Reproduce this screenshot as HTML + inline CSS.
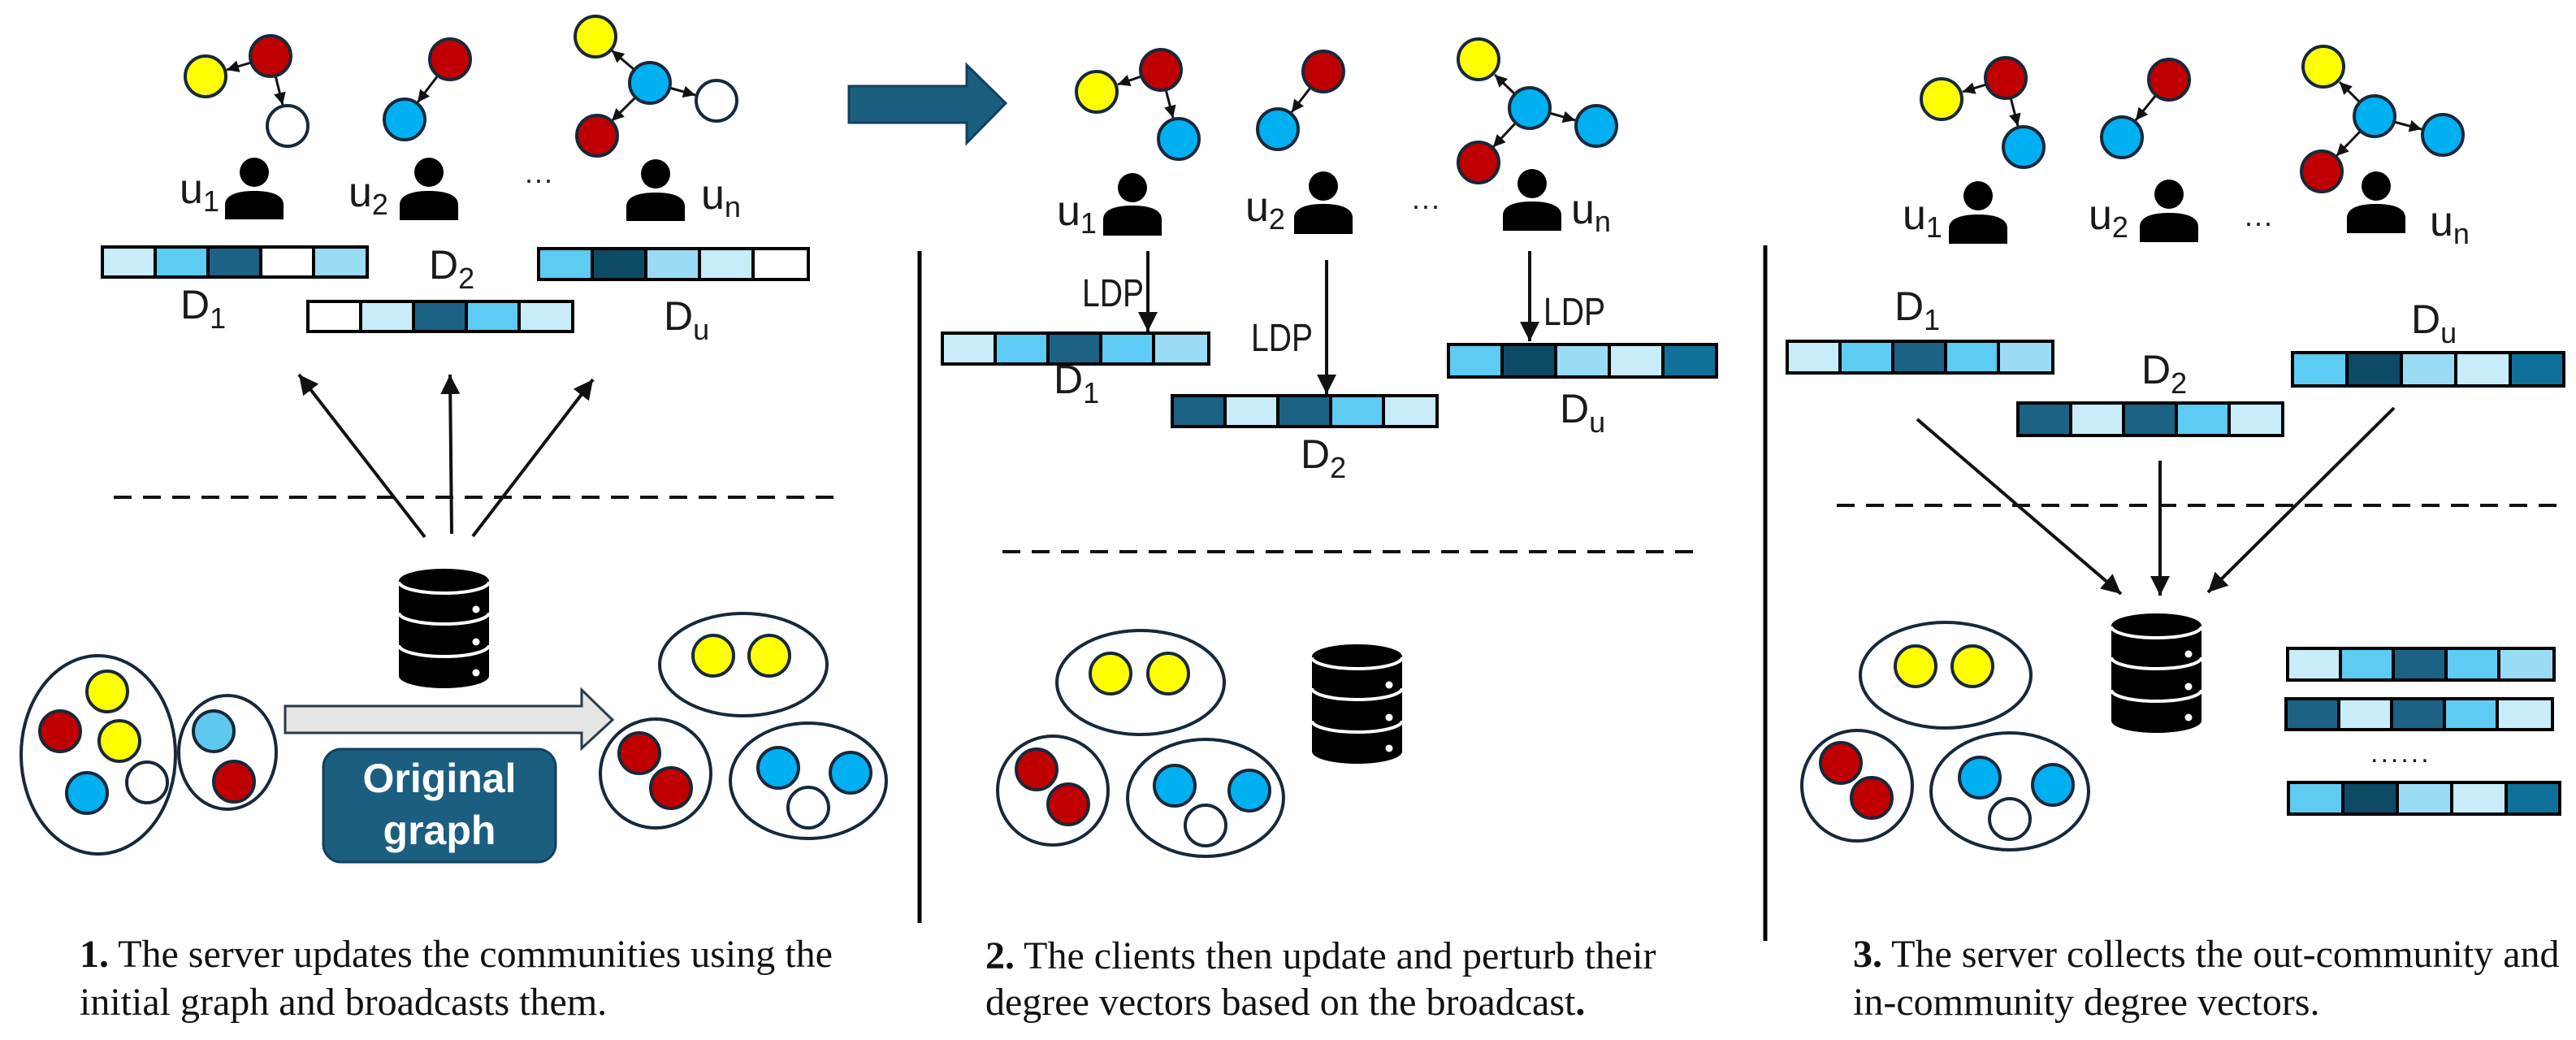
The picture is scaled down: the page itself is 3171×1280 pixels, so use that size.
<!DOCTYPE html>
<html><head><meta charset="utf-8"><style>
html,body{margin:0;padding:0;background:#fff;}
svg{display:block;}
.lab{font-family:"Liberation Sans",sans-serif;fill:#1a1a1a;}
.cap{font-family:"Liberation Serif",serif;font-size:48px;fill:#111;}
.n{stroke:#17283a;stroke-width:4;}
.e{fill:none;stroke:#17283a;stroke-width:4;}
.ar{stroke:#111;stroke-width:4;fill:none;}
.ag{stroke:#111;stroke-width:3;fill:none;}
.c{stroke:#000;stroke-width:4;}
</style></head><body>
<svg width="3171" height="1280" viewBox="0 0 3171 1280" xmlns="http://www.w3.org/2000/svg">
<defs>
<marker id="m" viewBox="0 0 10 10" refX="10" refY="5" markerWidth="6" markerHeight="6" markerUnits="strokeWidth" orient="auto"><path d="M0,0 L10,5 L0,10 z" fill="#111"/></marker>
<marker id="s" viewBox="0 0 10 10" refX="10" refY="5" markerWidth="5" markerHeight="5" markerUnits="strokeWidth" orient="auto"><path d="M0,0 L10,5 L0,10 z" fill="#111"/></marker>
<g id="db">
<path d="M0,15 A55.5,15 0 0 1 111,15 V132 A55.5,15 0 0 1 0,132 Z" fill="#000"/>
<path d="M0,16 A55.5,14 0 0 0 111,16 M0,54 A55.5,14 0 0 0 111,54 M0,94 A55.5,14 0 0 0 111,94" stroke="#fff" stroke-width="4" fill="none"/>
<circle cx="95" cy="50" r="4.5" fill="#fff"/><circle cx="95" cy="90" r="4.5" fill="#fff"/><circle cx="95" cy="128" r="4.5" fill="#fff"/>
</g>
</defs>

<!-- ============ PANEL 1 ============ -->
<g>
<line class="ag" x1="309" y1="77" x2="279" y2="86" marker-end="url(#s)"/>
<line class="ag" x1="339" y1="93" x2="348" y2="129" marker-end="url(#s)"/>
<circle class="n" cx="253" cy="94" r="25" fill="#ffff00"/>
<circle class="n" cx="333" cy="69" r="25" fill="#c00000"/>
<circle class="n" cx="354" cy="155" r="25" fill="#fff"/>
<line class="ag" x1="539" y1="93" x2="514" y2="126" marker-end="url(#s)"/>
<circle class="n" cx="554" cy="73" r="25" fill="#c00000"/>
<circle class="n" cx="498" cy="147" r="25" fill="#00b0f0"/>
<line class="ag" x1="781" y1="86" x2="753" y2="62" marker-end="url(#s)"/>
<line class="ag" x1="824" y1="108" x2="856" y2="117" marker-end="url(#s)"/>
<line class="ag" x1="782" y1="120" x2="753" y2="149" marker-end="url(#s)"/>
<circle class="n" cx="733" cy="45" r="25" fill="#ffff00"/>
<circle class="n" cx="800" cy="102" r="25" fill="#00b0f0"/>
<circle class="n" cx="882" cy="124" r="25" fill="#fff"/>
<circle class="n" cx="735" cy="167" r="25" fill="#c00000"/>
<circle cx="313" cy="212" r="18" fill="#000"/><path d="M277,270 V252 C277,240 292,235 313,235 C334,235 349,240 349,252 V270 Z" fill="#000"/>
<circle cx="528" cy="212" r="18" fill="#000"/><path d="M492,271 V252 C492,240 507,235 528,235 C549,235 564,240 564,252 V271 Z" fill="#000"/>
<circle cx="807" cy="214" r="18" fill="#000"/><path d="M771,272 V254 C771,242 786,237 807,237 C828,237 843,242 843,254 V272 Z" fill="#000"/>
<text class="lab" x="221" y="250" font-size="52">u<tspan font-size="36" dy="10">1</tspan></text>
<text class="lab" x="429" y="254" font-size="52">u<tspan font-size="36" dy="10">2</tspan></text>
<text class="lab" x="863" y="257" font-size="52">u<tspan font-size="36" dy="10">n</tspan></text>
<text class="lab" x="645" y="233" font-size="36">···</text>
<g class="c"><rect x="126" y="304" width="65" height="37" fill="#c8ecf9"/><rect x="191" y="304" width="65" height="37" fill="#5ecbf2"/><rect x="256" y="304" width="65" height="37" fill="#1b6284"/><rect x="321" y="304" width="65" height="37" fill="#fff"/><rect x="386" y="304" width="66" height="37" fill="#9adcf5"/></g>
<g class="c"><rect x="379" y="371" width="65" height="37" fill="#fff"/><rect x="444" y="371" width="65" height="37" fill="#c8ecf9"/><rect x="509" y="371" width="65" height="37" fill="#1b6284"/><rect x="574" y="371" width="65" height="37" fill="#5ecbf2"/><rect x="639" y="371" width="66" height="37" fill="#c8ecf9"/></g>
<g class="c"><rect x="663" y="306" width="66" height="38" fill="#5ecbf2"/><rect x="729" y="306" width="66" height="38" fill="#0d4a66"/><rect x="795" y="306" width="66" height="38" fill="#9adcf5"/><rect x="861" y="306" width="66" height="38" fill="#c8ecf9"/><rect x="927" y="306" width="68" height="38" fill="#fff"/></g>
<text class="lab" x="222" y="392" font-size="50">D<tspan font-size="36" dy="12">1</tspan></text>
<text class="lab" x="528" y="343" font-size="50">D<tspan font-size="36" dy="12">2</tspan></text>
<text class="lab" x="817" y="406" font-size="50">D<tspan font-size="36" dy="12">u</tspan></text>
<line class="ar" x1="523" y1="661" x2="368" y2="461" marker-end="url(#m)"/>
<line class="ar" x1="556" y1="657" x2="554" y2="461" marker-end="url(#m)"/>
<line class="ar" x1="582" y1="660" x2="730" y2="467" marker-end="url(#m)"/>
<line x1="140" y1="612" x2="1031" y2="612" stroke="#111" stroke-width="4" stroke-dasharray="22,14"/>
<use href="#db" x="491" y="700"/>
<ellipse class="e" cx="121" cy="929" rx="95" ry="122"/>
<circle class="n" cx="132" cy="851" r="25" fill="#ffff00"/>
<circle class="n" cx="74" cy="900" r="25" fill="#c00000"/>
<circle class="n" cx="147" cy="912" r="25" fill="#ffff00"/>
<circle class="n" cx="107" cy="976" r="25" fill="#00b0f0"/>
<circle class="n" cx="181" cy="963" r="25" fill="#fff"/>
<ellipse class="e" cx="280" cy="926" rx="60" ry="70"/>
<circle class="n" cx="263" cy="900" r="25" fill="#5fc8ee"/>
<circle class="n" cx="288" cy="962" r="25" fill="#c00000"/>
<polygon points="351,869 716,869 716,849 754,886 716,921 716,902 351,902" fill="#e5e5e5" stroke="#2a3a48" stroke-width="3"/>
<rect x="398" y="922" width="286" height="139" rx="22" fill="#1b5e80" stroke="#12405a" stroke-width="3"/>
<text x="541" y="975" font-family="Liberation Sans,sans-serif" font-weight="bold" font-size="50" fill="#fff" text-anchor="middle">Original</text>
<text x="541" y="1039" font-family="Liberation Sans,sans-serif" font-weight="bold" font-size="50" fill="#fff" text-anchor="middle">graph</text>
<ellipse class="e" cx="915" cy="818" rx="103" ry="63"/>
<circle class="n" cx="878" cy="807" r="25" fill="#ffff00"/>
<circle class="n" cx="947" cy="807" r="25" fill="#ffff00"/>
<ellipse class="e" cx="807" cy="952" rx="68" ry="67"/>
<circle class="n" cx="787" cy="927" r="25" fill="#c00000"/>
<circle class="n" cx="826" cy="970" r="25" fill="#c00000"/>
<ellipse class="e" cx="995" cy="961" rx="96" ry="71"/>
<circle class="n" cx="958" cy="945" r="25" fill="#00b0f0"/>
<circle class="n" cx="1047" cy="951" r="25" fill="#00b0f0"/>
<circle class="n" cx="995" cy="994" r="25" fill="#fff"/>
<text class="cap" x="98" y="1190"><tspan font-weight="bold">1.</tspan> The server updates the communities using the</text>
<text class="cap" x="98" y="1249">initial graph and broadcasts them.</text>
</g>

<polygon points="1045,106 1190,106 1190,80 1238,127 1190,176 1190,151 1045,151" fill="#1b5e80" stroke="#12405a" stroke-width="3"/>

<!-- ============ PANEL 2 ============ -->
<line x1="1132" y1="309" x2="1132" y2="1136" stroke="#000" stroke-width="5"/>
<line class="ag" x1="1405" y1="94" x2="1376" y2="104" marker-end="url(#s)"/>
<line class="ag" x1="1435" y1="110" x2="1444" y2="145" marker-end="url(#s)"/>
<circle class="n" cx="1350" cy="113" r="25" fill="#ffff00"/>
<circle class="n" cx="1429" cy="86" r="25" fill="#c00000"/>
<circle class="n" cx="1451" cy="171" r="25" fill="#00b0f0"/>
<line class="ag" x1="1613" y1="108" x2="1590" y2="138" marker-end="url(#s)"/>
<circle class="n" cx="1629" cy="88" r="25" fill="#c00000"/>
<circle class="n" cx="1573" cy="159" r="25" fill="#00b0f0"/>
<line class="ag" x1="1865" y1="116" x2="1840" y2="92" marker-end="url(#s)"/>
<line class="ag" x1="1907" y1="139" x2="1939" y2="148" marker-end="url(#s)"/>
<line class="ag" x1="1866" y1="151" x2="1838" y2="181" marker-end="url(#s)"/>
<circle class="n" cx="1820" cy="73" r="25" fill="#ffff00"/>
<circle class="n" cx="1883" cy="133" r="25" fill="#00b0f0"/>
<circle class="n" cx="1965" cy="155" r="25" fill="#00b0f0"/>
<circle class="n" cx="1820" cy="200" r="25" fill="#c00000"/>
<circle cx="1394" cy="231" r="18" fill="#000"/><path d="M1358,290 V270 C1358,258 1373,253 1394,253 C1415,253 1430,258 1430,270 V290 Z" fill="#000"/>
<circle cx="1629" cy="229" r="18" fill="#000"/><path d="M1593,288 V268 C1593,256 1608,251 1629,251 C1650,251 1665,256 1665,268 V288 Z" fill="#000"/>
<circle cx="1886" cy="226" r="18" fill="#000"/><path d="M1850,284 V265 C1850,253 1865,248 1886,248 C1907,248 1922,253 1922,265 V284 Z" fill="#000"/>
<text class="lab" x="1301" y="277" font-size="52">u<tspan font-size="36" dy="10">1</tspan></text>
<text class="lab" x="1533" y="272" font-size="52">u<tspan font-size="36" dy="10">2</tspan></text>
<text class="lab" x="1934" y="275" font-size="52">u<tspan font-size="36" dy="10">n</tspan></text>
<text class="lab" x="1737" y="265" font-size="36">···</text>
<line class="ar" x1="1413" y1="309" x2="1413" y2="408" marker-end="url(#m)"/>
<line class="ar" x1="1633" y1="320" x2="1633" y2="485" marker-end="url(#m)"/>
<line class="ar" x1="1883" y1="309" x2="1883" y2="420" marker-end="url(#m)"/>
<text class="lab" x="1332" y="377" font-size="48" textLength="76" lengthAdjust="spacingAndGlyphs">LDP</text>
<text class="lab" x="1540" y="432" font-size="48" textLength="76" lengthAdjust="spacingAndGlyphs">LDP</text>
<text class="lab" x="1900" y="400" font-size="48" textLength="76" lengthAdjust="spacingAndGlyphs">LDP</text>
<g class="c"><rect x="1160" y="410" width="65" height="38" fill="#c8ecf9"/><rect x="1225" y="410" width="65" height="38" fill="#5ecbf2"/><rect x="1290" y="410" width="65" height="38" fill="#1b6284"/><rect x="1355" y="410" width="65" height="38" fill="#5ecbf2"/><rect x="1420" y="410" width="68" height="38" fill="#9adcf5"/></g>
<g class="c"><rect x="1443" y="487" width="65" height="38" fill="#1b6284"/><rect x="1508" y="487" width="65" height="38" fill="#c8ecf9"/><rect x="1573" y="487" width="65" height="38" fill="#1b6284"/><rect x="1638" y="487" width="65" height="38" fill="#5ecbf2"/><rect x="1703" y="487" width="66" height="38" fill="#c8ecf9"/></g>
<g class="c"><rect x="1783" y="424" width="66" height="40" fill="#5ecbf2"/><rect x="1849" y="424" width="66" height="40" fill="#0d4a66"/><rect x="1915" y="424" width="66" height="40" fill="#9adcf5"/><rect x="1981" y="424" width="66" height="40" fill="#c8ecf9"/><rect x="2047" y="424" width="66" height="40" fill="#0f7199"/></g>
<text class="lab" x="1297" y="484" font-size="50">D<tspan font-size="36" dy="12">1</tspan></text>
<text class="lab" x="1601" y="576" font-size="50">D<tspan font-size="36" dy="12">2</tspan></text>
<text class="lab" x="1920" y="520" font-size="50">D<tspan font-size="36" dy="12">u</tspan></text>
<line x1="1234" y1="679" x2="2090" y2="679" stroke="#111" stroke-width="4" stroke-dasharray="22,14"/>
<ellipse class="e" cx="1404" cy="840" rx="103" ry="64"/>
<circle class="n" cx="1367" cy="829" r="25" fill="#ffff00"/>
<circle class="n" cx="1438" cy="829" r="25" fill="#ffff00"/>
<ellipse class="e" cx="1296" cy="973" rx="68" ry="67"/>
<circle class="n" cx="1276" cy="947" r="25" fill="#c00000"/>
<circle class="n" cx="1315" cy="990" r="25" fill="#c00000"/>
<ellipse class="e" cx="1484" cy="982" rx="96" ry="72"/>
<circle class="n" cx="1446" cy="967" r="25" fill="#00b0f0"/>
<circle class="n" cx="1538" cy="973" r="25" fill="#00b0f0"/>
<circle class="n" cx="1484" cy="1016" r="25" fill="#fff"/>
<use href="#db" x="1615" y="793"/>
<text class="cap" x="1213" y="1192"><tspan font-weight="bold">2.</tspan> The clients then update and perturb their</text>
<text class="cap" x="1213" y="1249">degree vectors based on the broadcast<tspan font-weight="bold">.</tspan></text>

<!-- ============ PANEL 3 ============ -->
<line x1="2173" y1="302" x2="2173" y2="1158" stroke="#000" stroke-width="5"/>
<line class="ag" x1="2445" y1="104" x2="2416" y2="113" marker-end="url(#s)"/>
<line class="ag" x1="2475" y1="120" x2="2484" y2="155" marker-end="url(#s)"/>
<circle class="n" cx="2390" cy="122" r="25" fill="#ffff00"/>
<circle class="n" cx="2469" cy="96" r="25" fill="#c00000"/>
<circle class="n" cx="2491" cy="181" r="25" fill="#00b0f0"/>
<line class="ag" x1="2654" y1="117" x2="2629" y2="148" marker-end="url(#s)"/>
<circle class="n" cx="2670" cy="98" r="25" fill="#c00000"/>
<circle class="n" cx="2612" cy="169" r="25" fill="#00b0f0"/>
<line class="ag" x1="2905" y1="126" x2="2880" y2="101" marker-end="url(#s)"/>
<line class="ag" x1="2947" y1="150" x2="2981" y2="159" marker-end="url(#s)"/>
<line class="ag" x1="2906" y1="161" x2="2876" y2="192" marker-end="url(#s)"/>
<circle class="n" cx="2860" cy="82" r="25" fill="#ffff00"/>
<circle class="n" cx="2923" cy="143" r="25" fill="#00b0f0"/>
<circle class="n" cx="3007" cy="166" r="25" fill="#00b0f0"/>
<circle class="n" cx="2858" cy="211" r="25" fill="#c00000"/>
<circle cx="2435" cy="241" r="18" fill="#000"/><path d="M2399,300 V281 C2399,269 2414,264 2435,264 C2456,264 2471,269 2471,281 V300 Z" fill="#000"/>
<circle cx="2670" cy="239" r="18" fill="#000"/><path d="M2634,298 V279 C2634,267 2649,262 2670,262 C2691,262 2706,267 2706,279 V298 Z" fill="#000"/>
<circle cx="2925" cy="229" r="18" fill="#000"/><path d="M2889,287 V268 C2889,256 2904,251 2925,251 C2946,251 2961,256 2961,268 V287 Z" fill="#000"/>
<text class="lab" x="2342" y="282" font-size="52">u<tspan font-size="36" dy="10">1</tspan></text>
<text class="lab" x="2571" y="282" font-size="52">u<tspan font-size="36" dy="10">2</tspan></text>
<text class="lab" x="2991" y="290" font-size="52">u<tspan font-size="36" dy="10">n</tspan></text>
<text class="lab" x="2762" y="286" font-size="36">···</text>
<g class="c"><rect x="2200" y="420" width="65" height="39" fill="#c8ecf9"/><rect x="2265" y="420" width="65" height="39" fill="#5ecbf2"/><rect x="2330" y="420" width="65" height="39" fill="#1b6284"/><rect x="2395" y="420" width="65" height="39" fill="#5ecbf2"/><rect x="2460" y="420" width="67" height="39" fill="#9adcf5"/></g>
<g class="c"><rect x="2484" y="496" width="65" height="40" fill="#1b6284"/><rect x="2549" y="496" width="65" height="40" fill="#c8ecf9"/><rect x="2614" y="496" width="65" height="40" fill="#1b6284"/><rect x="2679" y="496" width="65" height="40" fill="#5ecbf2"/><rect x="2744" y="496" width="66" height="40" fill="#c8ecf9"/></g>
<g class="c"><rect x="2822" y="434" width="67" height="41" fill="#5ecbf2"/><rect x="2889" y="434" width="67" height="41" fill="#0d4a66"/><rect x="2956" y="434" width="67" height="41" fill="#9adcf5"/><rect x="3023" y="434" width="67" height="41" fill="#c8ecf9"/><rect x="3090" y="434" width="66" height="41" fill="#0f7199"/></g>
<text class="lab" x="2332" y="394" font-size="50">D<tspan font-size="36" dy="12">1</tspan></text>
<text class="lab" x="2636" y="472" font-size="50">D<tspan font-size="36" dy="12">2</tspan></text>
<text class="lab" x="2968" y="410" font-size="50">D<tspan font-size="36" dy="12">u</tspan></text>
<line class="ar" x1="2360" y1="516" x2="2611" y2="731" marker-end="url(#m)"/>
<line class="ar" x1="2659" y1="567" x2="2659" y2="733" marker-end="url(#m)"/>
<line class="ar" x1="2947" y1="502" x2="2718" y2="729" marker-end="url(#m)"/>
<line x1="2261" y1="622" x2="3160" y2="622" stroke="#111" stroke-width="4" stroke-dasharray="22,14"/>
<use href="#db" x="2599" y="755"/>
<ellipse class="e" cx="2395" cy="831" rx="105" ry="65"/>
<circle class="n" cx="2358" cy="820" r="25" fill="#ffff00"/>
<circle class="n" cx="2428" cy="820" r="25" fill="#ffff00"/>
<ellipse class="e" cx="2286" cy="967" rx="68" ry="68"/>
<circle class="n" cx="2266" cy="939" r="25" fill="#c00000"/>
<circle class="n" cx="2304" cy="982" r="25" fill="#c00000"/>
<ellipse class="e" cx="2474" cy="974" rx="97" ry="72"/>
<circle class="n" cx="2437" cy="957" r="25" fill="#00b0f0"/>
<circle class="n" cx="2527" cy="966" r="25" fill="#00b0f0"/>
<circle class="n" cx="2474" cy="1008" r="25" fill="#fff"/>
<g class="c"><rect x="2816" y="798" width="65" height="39" fill="#c8ecf9"/><rect x="2881" y="798" width="65" height="39" fill="#5ecbf2"/><rect x="2946" y="798" width="65" height="39" fill="#1b6284"/><rect x="3011" y="798" width="65" height="39" fill="#5ecbf2"/><rect x="3076" y="798" width="68" height="39" fill="#9adcf5"/></g>
<g class="c"><rect x="2814" y="860" width="65" height="38" fill="#1b6284"/><rect x="2879" y="860" width="65" height="38" fill="#c8ecf9"/><rect x="2944" y="860" width="65" height="38" fill="#1b6284"/><rect x="3009" y="860" width="65" height="38" fill="#5ecbf2"/><rect x="3074" y="860" width="68" height="38" fill="#c8ecf9"/></g>
<text class="lab" x="2918" y="938" font-size="34" letter-spacing="3">......</text>
<g class="c"><rect x="2817" y="963" width="67" height="39" fill="#5ecbf2"/><rect x="2884" y="963" width="67" height="39" fill="#0d4a66"/><rect x="2951" y="963" width="67" height="39" fill="#9adcf5"/><rect x="3018" y="963" width="67" height="39" fill="#c8ecf9"/><rect x="3085" y="963" width="66" height="39" fill="#0f7199"/></g>
<text class="cap" x="2281" y="1190"><tspan font-weight="bold">3.</tspan> The server collects the out-community and</text>
<text class="cap" x="2281" y="1249">in-community degree vectors.</text>
</svg>
</body></html>
